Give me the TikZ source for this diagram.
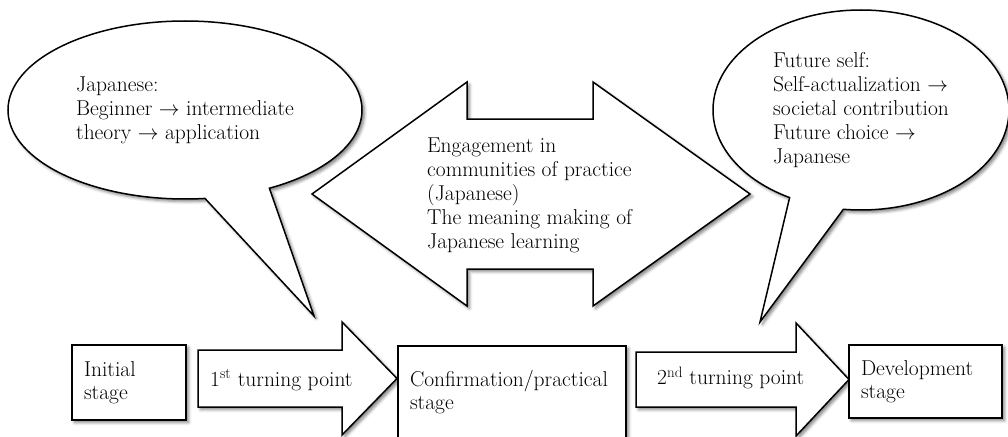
\documentclass[tikz,border=0pt]{standalone}
\usepackage{tikz}
\usetikzlibrary{shapes.callouts,shadows.blur}

\begin{document}
\begin{tikzpicture}[x=1pt,y=-1pt]
  \tikzstyle{shade}=[blur shadow={shadow xshift=2.5pt,shadow yshift=-2.5pt,shadow blur radius=3pt,shadow opacity=50}]
  \tikzstyle{txt}=[font=\fontsize{21.5}{24}\selectfont,align=left,inner sep=0pt]
  \tikzstyle{bubble}=[ellipse callout,draw=black,line width=1.5pt,fill=white,shade,callout pointer arc=22,font=\fontsize{21.5}{24}\selectfont,align=left,inner sep=0pt]
  \tikzstyle{stagebox}=[draw=black,line width=1.5pt,fill=white,shade,inner xsep=12pt,align=left,font=\fontsize{21.5}{23.5}\selectfont]
  \tikzstyle{blockarrow}=[draw=black,line width=1.5pt,fill=white,shade,line join=miter]
  \useasboundingbox (0,0) rectangle (1008,436);
  \clip (0,0) rectangle (1008,436);
  % speech bubbles
  \coordinate (tipL) at (314,316);
  \coordinate (tipR) at (760,322);
  \node[bubble,minimum width=354pt,minimum height=178pt,callout absolute pointer=(tipL)] (lang) at (185,110)
    {Japanese:\\Beginner $\rightarrow$ intermediate\\theory $\rightarrow$ application};
  \node[bubble,minimum width=296pt,minimum height=200pt,callout absolute pointer=(tipR)] (future) at (861,110)
    {Future self:\\Self-actualization $\rightarrow$\\societal contribution\\Future choice $\rightarrow$\\Japanese};
  % double arrow in the middle
  \draw[blockarrow] (312,194) -- (467,82) -- (467,119) -- (593,119) -- (593,82) -- (750,194)
    -- (593,306) -- (593,269) -- (467,269) -- (467,306) -- cycle;
  \node[txt,anchor=west] (practice) at (427,195)
    {Engagement in\\communities of practice\\(Japanese)\\The meaning making of\\Japanese learning};
  % turning point arrows
  \draw[blockarrow] (198,350) -- (342,350) -- (342,322) -- (397,378.5) -- (342,435) -- (342,407) -- (198,407) -- cycle;
  \node[txt,anchor=west] (turn1) at (210,380) {1\textsuperscript{st} turning point};
  \draw[blockarrow] (636,352) -- (796,352) -- (796,323) -- (849,379.5) -- (796,436) -- (796,407) -- (636,407) -- cycle;
  \node[txt,anchor=west] (turn2) at (657,378) {2\textsuperscript{nd} turning point};
  % stages
  \node[stagebox,minimum width=114pt,minimum height=75pt,text width=90pt] (init) at (129,382.5) {Initial\\stage};
  \node[stagebox,minimum width=228pt,minimum height=92pt,text width=204pt] (confirm) at (512,392) {Confirmation/practical\\stage};
  \node[stagebox,minimum width=153pt,minimum height=73pt,text width=129pt] (develop) at (925.5,381.5) {Development\\stage};
\end{tikzpicture}
\end{document}
